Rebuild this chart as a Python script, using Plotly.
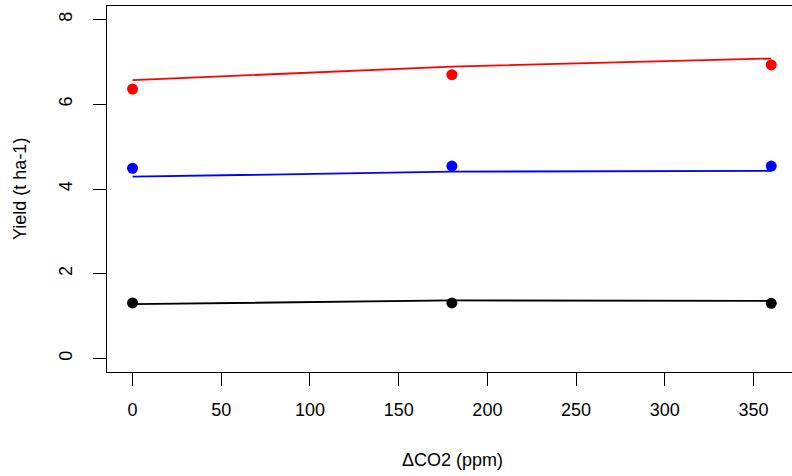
import plotly.graph_objects as go

co2 = [0, 180, 360]
obs_red = [6.36, 6.70, 6.93]
fit_red = [6.57, 6.89, 7.08]
obs_blue = [4.49, 4.54, 4.54]
fit_blue = [4.29, 4.41, 4.43]
obs_black = [1.31, 1.31, 1.30]
fit_black = [1.28, 1.37, 1.36]

x_ticks = [0, 50, 100, 150, 200, 250, 300, 350]
y_ticks = [0, 2, 4, 6, 8]

series = [
    (obs_red, fit_red, "#FF0000"),
    (obs_blue, fit_blue, "#0000FF"),
    (obs_black, fit_black, "#000000"),
]

fig = go.Figure()
for obs, fit, col in series:
    fig.add_trace(go.Scatter(x=co2, y=fit, mode="lines",
                             line=dict(color=col, width=1.8), showlegend=False))
    fig.add_trace(go.Scatter(x=co2, y=obs, mode="markers",
                             marker=dict(color=col, size=11), showlegend=False))

font = dict(family="Liberation Sans, Arial, sans-serif", size=18, color="black")
fig.update_layout(
    width=792, height=476,
    margin=dict(l=107, r=0, t=6, b=104),
    plot_bgcolor="white", paper_bgcolor="white",
    font=font,
    xaxis=dict(range=[-14.4, 371.7], tickvals=x_ticks, ticks="outside", ticklen=13,
               tickwidth=1.3, tickcolor="black", showline=True, linecolor="black",
               linewidth=1.3, mirror=True, showgrid=False, zeroline=False,
               ticklabelstandoff=8),
    yaxis=dict(range=[-0.32, 8.32], tickvals=y_ticks, ticks="outside", ticklen=13,
               tickwidth=1.3, tickcolor="black", showline=True, linecolor="black",
               linewidth=1.3, showgrid=False, zeroline=False, tickangle=-90,
               ticklabelstandoff=14),
    annotations=[
        dict(text="ΔCO2 (ppm)", xref="paper", yref="paper", x=(452 - 107) / 685, y=0,
             yshift=-76, xanchor="center", yanchor="top", showarrow=False, font=font),
        dict(text="Yield (t ha-1)", xref="paper", yref="paper", x=0, y=0.5,
             xshift=-87, xanchor="center", yanchor="middle", textangle=-90,
             showarrow=False, font=font),
    ],
)

fig.write_html("out.html", config={"displayModeBar": False},
               post_script="document.body.style.margin='0';document.body.style.overflow='hidden';")
